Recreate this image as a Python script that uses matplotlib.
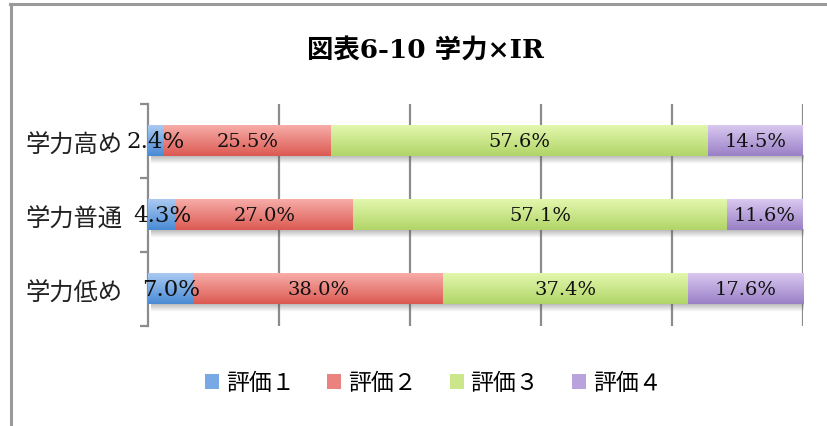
import matplotlib
matplotlib.use("Agg")
import matplotlib.pyplot as plt
from matplotlib.colors import LinearSegmentedColormap
from matplotlib.patches import Patch
from matplotlib.lines import Line2D
import numpy as np

plt.rcParams["font.family"] = ["DejaVu Serif", "Noto Sans CJK JP"]

categories = ["学力高め", "学力普通", "学力低め"]
series = ["評価１", "評価２", "評価３", "評価４"]
hyouka1 = [2.4, 4.3, 7.0]
hyouka2 = [25.5, 27.0, 38.0]
hyouka3 = [57.6, 57.1, 37.4]
hyouka4 = [14.5, 11.6, 17.6]
values = [hyouka1, hyouka2, hyouka3, hyouka4]

# top / bottom colours of each gradient
grad_top = ["#a9c9f2", "#f7aca8", "#e3f7ad", "#d9c8f0"]
grad_bot = ["#4a8bd4", "#dc5a52", "#b1d568", "#9a80c6"]
grad_mid = ["#78a9e4", "#ea837d", "#cbe68b", "#b9a3dc"]

fig = plt.figure(figsize=(8.27, 4.27), dpi=100)
ax = fig.add_axes([148 / 827, 1 - 327 / 427, 655 / 827, 222 / 427])

ypos = np.arange(len(categories))[::-1]
bar_h = 0.41

# soft shadow under each bar row
shadow = np.zeros((16, 2, 4))
shadow[..., :3] = 0.35
shadow[..., 3] = np.linspace(0.45, 0.0, 16)[:, None]
for y in ypos:
    ax.imshow(shadow, extent=[0.004, 1.004, y - bar_h / 2 - 0.1, y - bar_h / 2 + 0.01],
              aspect="auto", interpolation="bilinear", zorder=1, origin="upper")

left = np.zeros(len(categories))
for i, vals in enumerate(values):
    frac = np.array(vals) / 100.0
    bars = ax.barh(ypos, frac, left=left, height=bar_h, color=grad_mid[i],
                   linewidth=0, zorder=2)
    cmap = LinearSegmentedColormap.from_list("g%d" % i, [grad_bot[i], grad_top[i]])
    grad = np.linspace(0, 1, 64)[:, None]
    for rect, v in zip(bars, vals):
        x0, y0 = rect.get_x(), rect.get_y()
        ax.imshow(grad, extent=[x0, x0 + rect.get_width(), y0, y0 + rect.get_height()],
                  cmap=cmap, aspect="auto", origin="lower", interpolation="bilinear",
                  zorder=3)
        size = 16.5 if i == 0 else 14
        ax.text(x0 + rect.get_width() / 2, rect.get_y() + rect.get_height() / 2,
                "%.1f%%" % v, ha="center", va="center", fontsize=size,
                family=["DejaVu Serif"], color="#111111", zorder=5)
    left += frac

ax.set_xlim(0, 1)
ax.set_ylim(-0.5, len(categories) - 0.5)

# vertical gridlines
for gx in np.linspace(0.2, 1.0, 5):
    ax.axvline(gx, color="#8c8c8c", lw=1.6, zorder=0)

for s in ["top", "right", "bottom"]:
    ax.spines[s].set_visible(False)
ax.spines["left"].set_color("#8c8c8c")
ax.spines["left"].set_linewidth(1.6)
ax.set_xticks([])
ax.set_yticks(np.arange(-0.5, len(categories), 1.0))
ax.set_yticklabels([])
ax.tick_params(axis="y", length=6, width=1.6, color="#8c8c8c")
ax.set_yticks(ypos, minor=True)
ax.set_yticklabels(categories, minor=True, fontsize=17.5,
                   family=["Noto Sans CJK JP"], color="#222222")
ax.tick_params(axis="y", which="minor", length=0, pad=18)

fig.text(0.515, 1 - 50 / 427, "図表6-10 学力×IR", ha="center", va="center",
         fontsize=19, fontweight="bold", family=["DejaVu Serif", "Noto Sans CJK JP"])

handles = [Patch(facecolor=grad_mid[i], edgecolor="none") for i in range(4)]
fig.legend(handles, series, loc="center", bbox_to_anchor=(0.524, 1 - 384 / 427),
           ncol=4, frameon=False, handlelength=0.6, handleheight=0.6,
           handletextpad=0.3, columnspacing=1.45,
           prop={"family": "Noto Sans CJK JP", "size": 16.5})

# outer frame (left and top edges)
fig.add_artist(Line2D([11 / 827, 11 / 827], [0, 1 - 5 / 427], color="#9a9a9a", lw=2.2))
fig.add_artist(Line2D([10 / 827, 1], [1 - 5 / 427, 1 - 5 / 427], color="#9a9a9a", lw=2.2))

fig.savefig("out.png", dpi=100, facecolor="white")
